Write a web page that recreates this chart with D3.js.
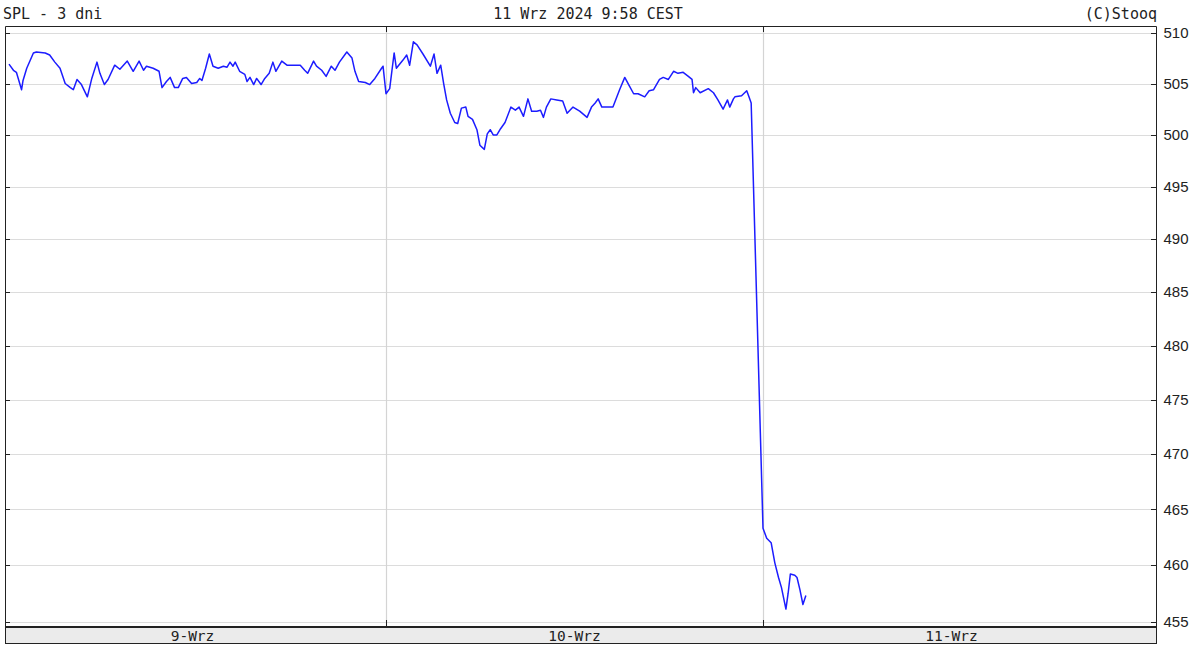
<!DOCTYPE html>
<html>
<head>
<meta charset="utf-8">
<script src="https://cdn.jsdelivr.net/npm/d3@7"></script>
<style>
  body { margin: 0; background: #fff; }
  svg { display: block; }
</style>
</head>
<body>
<svg></svg>
<script>
// Chart size
const width = 1196;
const height = 645;
const plot = { left: 5, right: 1156, top: 26, bottom: 626 };
const band = { top: 627, bottom: 643 };

// Session length in minutes after 9:00
const sessionMinutes = 510;

// Day labels and tick values
const days = ["9-Wrz", "10-Wrz", "11-Wrz"];
const yTicks = [510, 505, 500, 495, 490, 485, 480, 475, 470, 465, 460, 455];

// Minutes after 9:00 and prices, one pair of arrays per day
const day1Minutes = [0,6,10,17,19,24,33,37,49,55,62,69,76,83,87,92,98,106,112,119,123,129,134,143,150,160,168,176,182,186,195,203,207,213,218,224,229,235,240,247,254,258,261,266,271,276,283,290,295,299,303,306,312,319,322,326,331,335,341,346,352,357,361,369,376,385,394,400,404,412,416,423,429,436,441,447,457,464,468,473,482,488,495,504,506];
const day1Prices = [506.9,506.3,506.1,504.4,505.3,506.5,508.0,508.1,508.0,507.8,507.1,506.5,505.0,504.6,504.4,505.4,504.9,503.7,505.5,507.1,506.0,504.9,505.4,506.8,506.4,507.2,506.2,507.2,506.3,506.7,506.5,506.2,504.6,505.2,505.6,504.6,504.6,505.5,505.6,505.0,505.1,505.5,505.3,506.5,507.9,506.7,506.5,506.7,506.6,507.1,506.7,507.1,506.2,505.9,505.2,505.6,504.9,505.5,504.9,505.5,506.0,507.1,506.2,507.2,506.8,506.8,506.8,506.3,506.0,507.2,506.7,506.3,505.7,506.7,506.3,507.1,508.1,507.5,506.2,505.2,505.1,504.9,505.5,506.5,506.7];

const day2Minutes = [0,5,11,14,23,28,32,37,42,50,60,65,69,74,78,82,87,93,97,102,108,111,117,123,127,133,137,141,145,150,155,161,169,175,180,186,192,197,204,209,213,217,223,231,239,245,253,262,272,278,283,287,292,307,316,323,329,335,341,350,356,362,370,375,382,389,395,402,409,414,416,419,425,436,443,449,456,462,465,470,472,481,488,491,494];
const day2Prices = [504.0,504.5,508.0,506.5,507.3,507.8,506.8,509.1,508.8,507.9,506.7,507.9,506.0,506.8,505.0,503.4,502.1,501.2,501.1,502.6,502.7,501.8,501.5,500.5,499.0,498.6,500.1,500.5,500.0,500.0,500.6,501.2,502.7,502.4,502.7,501.8,503.5,502.3,502.3,502.4,501.7,502.7,503.5,503.4,503.3,502.1,502.7,502.3,501.7,502.7,503.1,503.5,502.7,502.7,504.4,505.6,504.8,504.0,504.0,503.7,504.3,504.4,505.4,505.6,505.4,506.2,506.0,506.1,505.7,505.4,504.1,504.6,504.1,504.5,504.1,503.4,502.5,503.4,502.7,503.5,503.7,503.8,504.3,503.7,503.1];

const day3Minutes = [0,5,11,16,21,25,31,34,37,43,46,50,54,56,58];
const day3Prices = [463.3,462.4,462.0,460.2,458.9,458.0,456.1,457.5,459.2,459.1,458.9,457.8,456.5,456.9,457.3];

const svg = d3.select("svg")
    .attr("width", width)
    .attr("height", height)
    .style("font-family", "'DejaVu Sans Mono', monospace");

// Scales: x in minutes across three sessions, y logarithmic
const xScale = d3.scaleLinear()
    .domain([0, sessionMinutes * 3])
    .range([9, 1140]);

const yScale = d3.scaleLog()
    .domain([455, 510])
    .range([621.5, 32.7]);

// Build the series
const series = [];
[[day1Minutes, day1Prices], [day2Minutes, day2Prices], [day3Minutes, day3Prices]]
    .forEach(([mins, prices], d) => {
        mins.forEach((m, i) => series.push({ t: d * sessionMinutes + m, v: prices[i] }));
    });

// Horizontal grid
svg.append("g")
    .selectAll("line")
    .data(yTicks)
    .enter()
    .append("line")
    .attr("x1", plot.left)
    .attr("x2", plot.right)
    .attr("y1", d => Math.round(yScale(d)) + 0.5)
    .attr("y2", d => Math.round(yScale(d)) + 0.5)
    .attr("stroke", "#dcdcdc")
    .attr("stroke-width", 1.2);

// Day separators
const seps = [1, 2].map(d => Math.round(xScale(d * sessionMinutes)) + 0.5);
svg.append("g")
    .selectAll("line")
    .data(seps)
    .enter()
    .append("line")
    .attr("x1", d => d)
    .attr("x2", d => d)
    .attr("y1", plot.top)
    .attr("y2", plot.bottom)
    .attr("stroke", "#d4d4d4")
    .attr("stroke-width", 1.2);

// Price line
const line = d3.line()
    .x(d => xScale(d.t))
    .y(d => yScale(d.v));

svg.append("path")
    .datum(series)
    .attr("d", line)
    .attr("fill", "none")
    .attr("stroke", "#1c1cff")
    .attr("stroke-width", 1.5)
    .attr("stroke-linejoin", "round");

// Date band under the plot
svg.append("rect")
    .attr("x", plot.left + 0.5)
    .attr("y", band.top + 0.5)
    .attr("width", plot.right - plot.left)
    .attr("height", band.bottom - band.top)
    .attr("fill", "#ebebeb")
    .attr("stroke", "#222")
    .attr("stroke-width", 1);

// Frame
svg.append("path")
    .attr("d", `M${plot.left + 0.5},${band.bottom + 0.5} V${plot.top + 0.5} H${plot.right + 0.5} V${band.bottom + 0.5}`)
    .attr("fill", "none")
    .attr("stroke", "#222")
    .attr("stroke-width", 1);

svg.append("line")
    .attr("x1", plot.left)
    .attr("x2", plot.right)
    .attr("y1", plot.bottom + 0.5)
    .attr("y2", plot.bottom + 0.5)
    .attr("stroke", "#222");

// Right axis
const yAxis = d3.axisRight(yScale)
    .tickValues(yTicks)
    .tickFormat(d3.format("d"))
    .tickSize(0)
    .tickPadding(7);

const axisG = svg.append("g")
    .attr("transform", `translate(${plot.right + 0.5},0)`)
    .call(yAxis);
axisG.select(".domain").remove();
axisG.selectAll("text")
    .attr("font-family", "'Liberation Sans', Arial, sans-serif")
    .attr("font-size", 15)
    .attr("fill", "#222");

// Small tick marks on both sides
const ticks = svg.append("g").attr("stroke", "#222").attr("stroke-width", 1);
yTicks.forEach(v => {
    const y = Math.round(yScale(v)) + 0.5;
    ticks.append("line").attr("x1", plot.right - 5).attr("x2", plot.right).attr("y1", y).attr("y2", y);
    ticks.append("line").attr("x1", plot.left).attr("x2", plot.left + 5).attr("y1", y).attr("y2", y);
});
seps.forEach(x => {
    ticks.append("line").attr("x1", x).attr("x2", x).attr("y1", plot.top).attr("y2", plot.top + 6);
    ticks.append("line").attr("x1", x).attr("x2", x).attr("y1", plot.bottom - 6).attr("y2", plot.bottom);
});

// Day labels
svg.append("g")
    .selectAll("text")
    .data(days)
    .enter()
    .append("text")
    .attr("x", (d, i) => xScale(i * sessionMinutes + sessionMinutes / 2) - (i === 0 ? 5 : 0))
    .attr("y", 641)
    .attr("text-anchor", "middle")
    .attr("font-size", 14.5)
    .attr("fill", "#222")
    .text(d => d);

// Header
svg.append("text")
    .attr("x", 3).attr("y", 19)
    .attr("font-size", 15).attr("fill", "#222")
    .text("SPL - 3 dni");

svg.append("text")
    .attr("x", 588).attr("y", 19)
    .attr("text-anchor", "middle")
    .attr("font-size", 15).attr("fill", "#222")
    .text("11 Wrz 2024 9:58 CEST");

svg.append("text")
    .attr("x", 1157).attr("y", 19)
    .attr("text-anchor", "end")
    .attr("font-size", 15).attr("fill", "#222")
    .text("(C)Stooq");
</script>
</body>
</html>
